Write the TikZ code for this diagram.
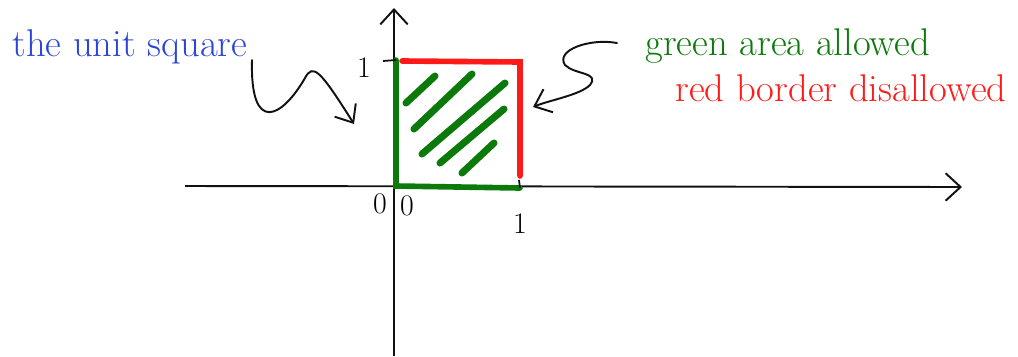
\documentclass[tikz,border=0pt]{standalone}
\usetikzlibrary{arrows.meta}
\definecolor{penblue}{HTML}{2B45D6}
\definecolor{pengreen}{HTML}{0B7A0B}
\definecolor{penred}{HTML}{FF1A1A}
\definecolor{ink}{HTML}{111111}

\begin{document}
\begin{tikzpicture}[
  x=0.02cm, y=-0.02cm,
  axis/.style={ink, line width=1.1pt, -{Straight Barb[length=3mm,width=5.5mm]}},
  allowed/.style={pengreen, line width=3.2pt, line cap=round},
  border/.style={penred, line width=3.2pt, line cap=round},
  hatch/.style={pengreen, line width=4pt, line cap=round},
  squiggle/.style={ink, line width=1.1pt, line cap=round, -{Straight Barb[length=3mm,width=5mm]}},
  tick/.style={ink, line width=1pt},
  numlabel/.style={font=\fontsize{17}{19}\selectfont, inner sep=0pt},
  note/.style={font=\fontsize{22}{26}\selectfont, inner sep=0pt, anchor=west}
]
  \useasboundingbox (0,0) rectangle (1018,356);

  % axes
  \coordinate (xl) at (185,186);
  \coordinate (xr) at (962,187);
  \coordinate (yb) at (394,356);
  \coordinate (yt) at (394,8);
  \draw[axis] (xl) -- (xr);
  \draw[axis] (yb) -- (yt);

  % the square
  \coordinate (sq00) at (396,186);
  \coordinate (sq10) at (520,188);
  \coordinate (sq11) at (520,62);
  \coordinate (sq01) at (396,60);
  \coordinate (rtop) at (402,61);
  \coordinate (rend) at (520,176);
  \draw[allowed] (sq10) -- (sq00) -- (sq01);
  \draw[border] (rtop) -- (sq11) -- (rend);
  \foreach \ax/\ay/\bx/\by in {406/103/435/76, 414/129/472/74, 422/154/505/83,
                               440/163/504/109, 462/173/494/143}
    \draw[hatch] (\ax,\ay) -- (\bx,\by);

  % ticks and numbers
  \coordinate (ytick) at (383,61);
  \coordinate (xtick) at (519,180);
  \draw[tick] (ytick) -- (sq01);
  \draw[tick] (xtick) -- (sq10);
  \node[numlabel] (yone) at (364,68) {1};
  \node[numlabel] (yzero) at (380,204) {0};
  \node[numlabel] (xzero) at (407,206) {0};
  \node[numlabel] (xone) at (520,224) {1};

  % notes
  \node[note, text=penblue] (unitsq) at (12,47) {the unit square};
  \node[note, text=pengreen] (greenok) at (645,46) {green area allowed};
  \node[note, text=penred] (redno) at (675,88) {red border disallowed};

  \coordinate (lsq) at (252,60);
  \coordinate (lsqtip) at (354,124);
  \draw[squiggle] (lsq) .. controls (250,135) and (282,118) .. (305,78)
    .. controls (313,63) and (320,70) .. (lsqtip);
  \coordinate (rsq) at (617,43);
  \coordinate (rsqtip) at (533,107);
  \draw[squiggle] (rsq) .. controls (590,38) and (555,50) .. (565,65)
    .. controls (575,75) and (600,72) .. (590,85)
    .. controls (580,95) and (550,100) .. (rsqtip);
\end{tikzpicture}
\end{document}
